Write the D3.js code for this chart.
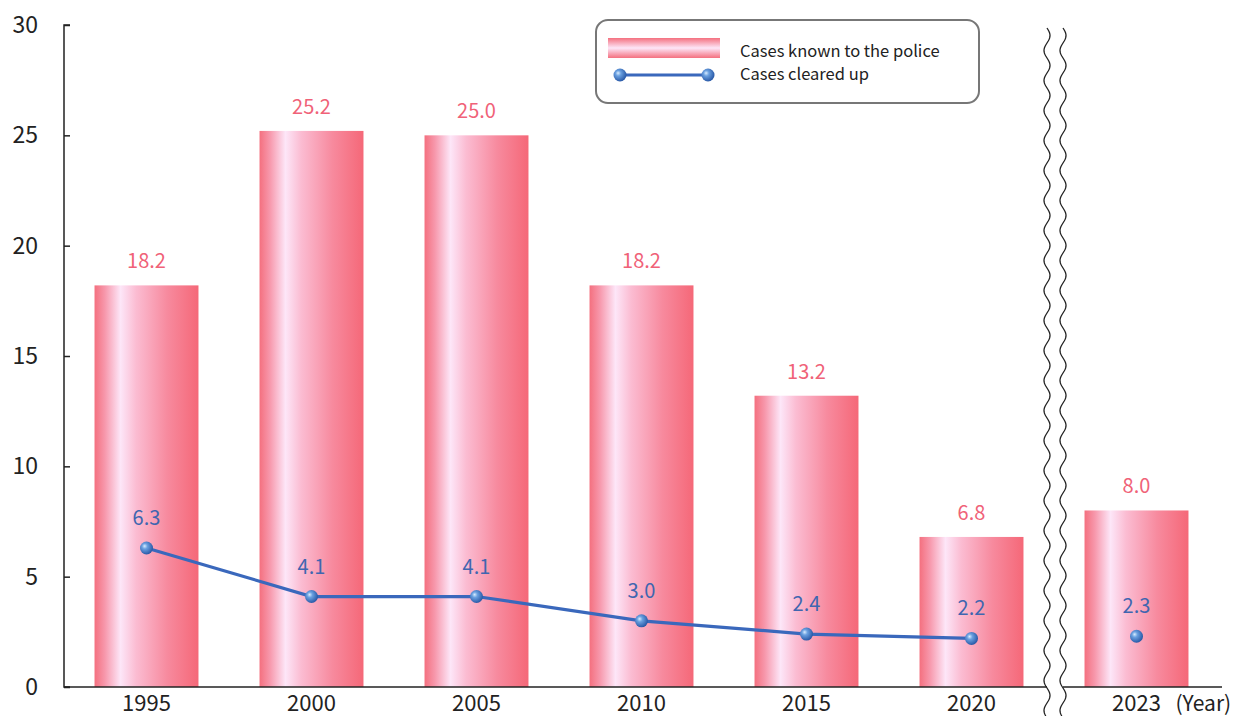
<!DOCTYPE html>
<html>
<head>
<meta charset="utf-8">
<script src="https://cdn.jsdelivr.net/npm/d3@7"></script>
<style>
  html, body { margin: 0; padding: 0; background: #fff; }
  svg { display: block; }
  text { font-family: "Noto Sans CJK JP", "DejaVu Sans", sans-serif; }
</style>
</head>
<body>
<svg id="chart" width="1245" height="716"></svg>
<script>
// Data (units: ten thousand cases)
const years = ["1995", "2000", "2005", "2010", "2015", "2020", "2023"];
const knownCases = [18.2, 25.2, 25.0, 18.2, 13.2, 6.8, 8.0];
const clearedCases = [6.3, 4.1, 4.1, 3.0, 2.4, 2.2, 2.3];
const yTicks = [0, 5, 10, 15, 20, 25, 30];
const seriesNames = ["Cases known to the police", "Cases cleared up"];
const yearSuffix = "(Year)";

const svg = d3.select("#chart");
const W = 1245, H = 716;
const m = { left: 64, right: 26, top: 25, bottom: 29 };
const plotBottom = H - m.bottom;

const x = d3.scaleBand().domain(years).range([m.left, m.left + 7 * 165]).paddingInner(0.37).paddingOuter(0.185);
const y = d3.scaleLinear().domain([0, 30]).range([plotBottom, m.top]);
const cx = d => x(d) + x.bandwidth() / 2;

const defs = svg.append("defs");
const bg = defs.append("linearGradient").attr("id", "barGrad").attr("x1", 0).attr("x2", 1).attr("y1", 0).attr("y2", 0);
[[0, "#f4707f"], [0.1, "#f798ac"], [0.25, "#fde6f8"], [0.4, "#fbbcd2"], [0.7, "#f78a9e"], [1, "#f56878"]]
  .forEach(([o, c]) => bg.append("stop").attr("offset", o).attr("stop-color", c));

const dg = defs.append("radialGradient").attr("id", "dotGrad").attr("cx", 0.4).attr("cy", 0.4).attr("r", 0.6).attr("fx", 0.35).attr("fy", 0.35);
[[0, "#d8ecff"], [0.35, "#6aa0e0"], [1, "#2a5aa8"]]
  .forEach(([o, c]) => dg.append("stop").attr("offset", o).attr("stop-color", c));

// Bars
svg.append("g").selectAll("rect").data(years).join("rect")
  .attr("x", d => x(d)).attr("width", x.bandwidth())
  .attr("y", (d, i) => y(knownCases[i]))
  .attr("height", (d, i) => plotBottom - y(knownCases[i]))
  .attr("fill", "url(#barGrad)");

svg.append("g").selectAll("text").data(years).join("text")
  .attr("x", cx)
  .attr("y", (d, i) => y(knownCases[i]) - 17)
  .attr("text-anchor", "middle")
  .attr("font-size", 20).attr("fill", "#f06278")
  .text((d, i) => knownCases[i].toFixed(1));

// Axes
const yAxis = d3.axisRight(y).tickValues(yTicks).tickSize(6).tickFormat("");
const gy = svg.append("g").attr("transform", `translate(${m.left},0)`).call(yAxis);
gy.select(".domain").attr("stroke", "#222").attr("stroke-width", 1.5).attr("d", `M6,${m.top}H0V${plotBottom}H6`);
gy.selectAll(".tick line").attr("stroke", "#222").attr("stroke-width", 1.5);

svg.append("g").selectAll("text").data(yTicks).join("text")
  .attr("x", 38).attr("y", d => y(d) + 8)
  .attr("text-anchor", "end").attr("font-size", 23).attr("fill", "#222")
  .text(d => d);

svg.append("line")
  .attr("x1", m.left).attr("x2", 1222).attr("y1", plotBottom).attr("y2", plotBottom)
  .attr("stroke", "#222").attr("stroke-width", 1.5);

svg.append("g").selectAll("text").data(years).join("text")
  .attr("x", cx).attr("y", plotBottom + 24)
  .attr("text-anchor", "middle").attr("font-size", 22).attr("fill", "#222")
  .text(d => d);

svg.append("text")
  .attr("x", cx("2023") + 39).attr("y", plotBottom + 24)
  .attr("font-size", 21).attr("fill", "#222")
  .text(yearSuffix);

// Cleared-up line (1995–2020); 2023 shown as a separate point
const lineYears = years.slice(0, 6);
const line = d3.line()
  .x(cx)
  .y((d, i) => y(clearedCases[i]));
svg.append("path").datum(lineYears).attr("d", line)
  .attr("fill", "none").attr("stroke", "#3a68bc").attr("stroke-width", 3.2);

svg.append("g").selectAll("circle").data(years).join("circle")
  .attr("cx", cx)
  .attr("cy", (d, i) => y(clearedCases[i]))
  .attr("r", 6.5).attr("fill", "url(#dotGrad)");

svg.append("g").selectAll("text").data(years).join("text")
  .attr("x", cx)
  .attr("y", (d, i) => y(clearedCases[i]) - 23)
  .attr("text-anchor", "middle")
  .attr("font-size", 20).attr("fill", "#3f66b0")
  .text((d, i) => clearedCases[i].toFixed(1));

// Axis break between 2020 and 2023
const breakX = [1047, 1063];
const wave = (x0) => {
  const pts = [];
  for (let yy = 28; yy <= 716; yy += 1) pts.push([x0 + 3 * Math.sin((yy - 28) / 30 * 2 * Math.PI), yy]);
  return pts;
};
const waveLine = d3.line();
svg.append("rect").attr("x", breakX[0]).attr("y", 28).attr("width", breakX[1] - breakX[0]).attr("height", 688).attr("fill", "#fff");
breakX.forEach(bx => {
  svg.append("path").attr("d", waveLine(wave(bx)))
    .attr("fill", "none").attr("stroke", "#222").attr("stroke-width", 1.3);
});

// Legend
const lg = svg.append("g");
lg.append("rect").attr("x", 596).attr("y", 20).attr("width", 383).attr("height", 83).attr("rx", 12)
  .attr("fill", "#fff").attr("stroke", "#777").attr("stroke-width", 2);
const lgGrad = defs.append("linearGradient").attr("id", "legGrad").attr("x1", 0).attr("x2", 0).attr("y1", 0).attr("y2", 1);
[[0, "#f4707f"], [0.5, "#fde6f8"], [1, "#f4707f"]]
  .forEach(([o, c]) => lgGrad.append("stop").attr("offset", o).attr("stop-color", c));
lg.append("rect").attr("x", 608).attr("y", 38).attr("width", 112).attr("height", 20).attr("fill", "url(#legGrad)");
lg.append("line").attr("x1", 620).attr("x2", 708).attr("y1", 75).attr("y2", 75)
  .attr("stroke", "#3a68bc").attr("stroke-width", 3.2);
[620, 708].forEach(px => lg.append("circle").attr("cx", px).attr("cy", 75).attr("r", 6.5).attr("fill", "url(#dotGrad)"));
lg.selectAll("text.lbl").data(seriesNames).join("text").attr("class", "lbl")
  .attr("x", 740).attr("y", (d, i) => 57 + i * 23)
  .attr("font-size", 16.5).attr("fill", "#222")
  .text(d => d);
</script>
</body>
</html>
